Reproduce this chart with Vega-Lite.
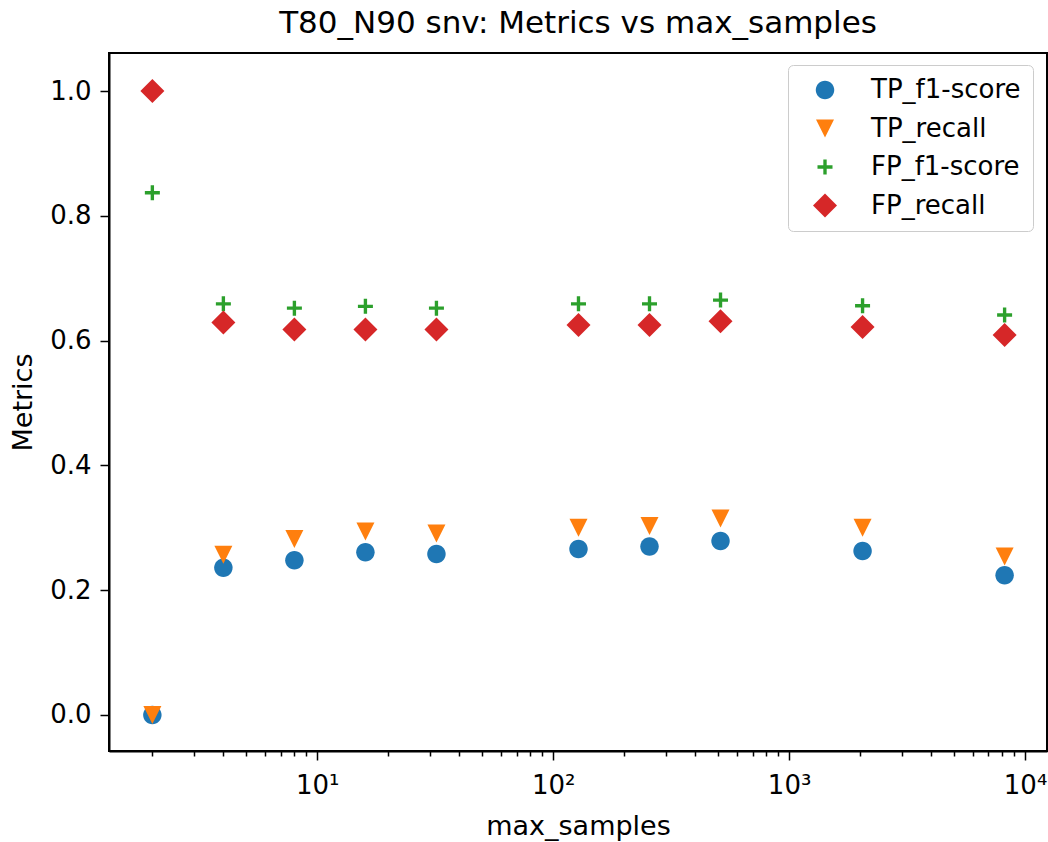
{
  "$schema": "https://vega.github.io/schema/vega-lite/v6.json",
  "autosize": "none",
  "width": 938,
  "height": 698,
  "padding": {"left": 109, "top": 53, "right": 1, "bottom": 91},
  "background": "white",
  "config": {
    "font": "DejaVu Sans",
    "view": {"stroke": "black", "strokeWidth": 2},
    "axis": {"grid": false, "domainColor": "black", "domainWidth": 2, "tickColor": "black", "labelColor": "black", "titleColor": "black", "labelFont": "DejaVu Sans", "titleFont": "DejaVu Sans", "titleFontWeight": "normal"},
    "legend": {"labelFont": "DejaVu Sans"}
  },
  "title": {"text": "T80_N90 snv: Metrics vs max_samples", "fontSize": 31, "fontWeight": "normal", "color": "black", "offset": 13, "font": "DejaVu Sans"},
  "data": {
    "values": [
      {"max_samples": 2, "metric": "TP_f1-score", "value": 0.0},
      {"max_samples": 4, "metric": "TP_f1-score", "value": 0.236},
      {"max_samples": 8, "metric": "TP_f1-score", "value": 0.248},
      {"max_samples": 16, "metric": "TP_f1-score", "value": 0.261},
      {"max_samples": 32, "metric": "TP_f1-score", "value": 0.258},
      {"max_samples": 128, "metric": "TP_f1-score", "value": 0.266},
      {"max_samples": 256, "metric": "TP_f1-score", "value": 0.270},
      {"max_samples": 512, "metric": "TP_f1-score", "value": 0.279},
      {"max_samples": 2048, "metric": "TP_f1-score", "value": 0.263},
      {"max_samples": 8192, "metric": "TP_f1-score", "value": 0.224},
      {"max_samples": 2, "metric": "TP_recall", "value": 0.0},
      {"max_samples": 4, "metric": "TP_recall", "value": 0.257},
      {"max_samples": 8, "metric": "TP_recall", "value": 0.282},
      {"max_samples": 16, "metric": "TP_recall", "value": 0.294},
      {"max_samples": 32, "metric": "TP_recall", "value": 0.291},
      {"max_samples": 128, "metric": "TP_recall", "value": 0.300},
      {"max_samples": 256, "metric": "TP_recall", "value": 0.303},
      {"max_samples": 512, "metric": "TP_recall", "value": 0.315},
      {"max_samples": 2048, "metric": "TP_recall", "value": 0.300},
      {"max_samples": 8192, "metric": "TP_recall", "value": 0.254},
      {"max_samples": 2, "metric": "FP_f1-score", "value": 0.837},
      {"max_samples": 4, "metric": "FP_f1-score", "value": 0.659},
      {"max_samples": 8, "metric": "FP_f1-score", "value": 0.652},
      {"max_samples": 16, "metric": "FP_f1-score", "value": 0.655},
      {"max_samples": 32, "metric": "FP_f1-score", "value": 0.652},
      {"max_samples": 128, "metric": "FP_f1-score", "value": 0.659},
      {"max_samples": 256, "metric": "FP_f1-score", "value": 0.659},
      {"max_samples": 512, "metric": "FP_f1-score", "value": 0.665},
      {"max_samples": 2048, "metric": "FP_f1-score", "value": 0.656},
      {"max_samples": 8192, "metric": "FP_f1-score", "value": 0.641},
      {"max_samples": 2, "metric": "FP_recall", "value": 1.0},
      {"max_samples": 4, "metric": "FP_recall", "value": 0.629},
      {"max_samples": 8, "metric": "FP_recall", "value": 0.618},
      {"max_samples": 16, "metric": "FP_recall", "value": 0.618},
      {"max_samples": 32, "metric": "FP_recall", "value": 0.618},
      {"max_samples": 128, "metric": "FP_recall", "value": 0.625},
      {"max_samples": 256, "metric": "FP_recall", "value": 0.625},
      {"max_samples": 512, "metric": "FP_recall", "value": 0.631},
      {"max_samples": 2048, "metric": "FP_recall", "value": 0.622},
      {"max_samples": 8192, "metric": "FP_recall", "value": 0.609}
    ]
  },
  "mark": {"type": "point", "filled": true, "size": 576, "opacity": 1, "strokeWidth": 0},
  "encoding": {
    "x": {
      "field": "max_samples", "type": "quantitative",
      "scale": {"type": "log", "domain": [1.31, 12390], "nice": false, "zero": false},
      "axis": {
        "title": "max_samples", "titleFontSize": 27, "titlePadding": 15,
        "values": [2,3,4,5,6,7,8,9,10,20,30,40,50,60,70,80,90,100,200,300,400,500,600,700,800,900,1000,2000,3000,4000,5000,6000,7000,8000,9000,10000],
        "labelExpr": "datum.value == 10 ? '10¹' : datum.value == 100 ? '10²' : datum.value == 1000 ? '10³' : datum.value == 10000 ? '10⁴' : ''",
        "labelFontSize": 26, "labelPadding": 12, "labelOverlap": false, "labelFlush": false,
        "tickSize": {"condition": {"test": "indexof([10,100,1000,10000], datum.value) >= 0", "value": 9}, "value": 5},
        "tickWidth": 1.5
      }
    },
    "y": {
      "field": "value", "type": "quantitative",
      "scale": {"domain": [-0.0577, 1.061], "nice": false, "zero": false},
      "axis": {
        "title": "Metrics", "titleFontSize": 27, "titlePadding": 12,
        "values": [0, 0.2, 0.4, 0.6, 0.8, 1.0], "format": ".1f",
        "labelFontSize": 26, "labelPadding": 9, "tickSize": 9, "tickWidth": 1.5
      }
    },
    "color": {
      "field": "metric", "type": "nominal",
      "scale": {"domain": ["TP_f1-score", "TP_recall", "FP_f1-score", "FP_recall"], "range": ["#1f77b4", "#ff7f0e", "#2ca02c", "#d62728"]},
      "legend": {
        "title": null, "orient": "none", "legendX": 679, "legendY": 12,
        "labelFontSize": 26, "labelColor": "black", "symbolSize": 576, "symbolStrokeWidth": 0,
        "strokeColor": "#cccccc", "fillColor": "white", "cornerRadius": 5, "padding": 12,
        "rowPadding": 12.5, "symbolOffset": 12, "labelOffset": 33
      }
    },
    "shape": {
      "field": "metric", "type": "nominal",
      "scale": {"domain": ["TP_f1-score", "TP_recall", "FP_f1-score", "FP_recall"], "range": [
        "M-0.77,0A0.77,0.77 0 1,0 0.77,0A0.77,0.77 0 1,0 -0.77,0Z",
        "M-0.75,-0.75L0.75,-0.75L0,0.75Z",
        "M-0.625,-0.14H-0.14V-0.625H0.14V-0.14H0.625V0.14H0.14V0.625H-0.14V0.14H-0.625Z",
        "M-1,0L0,-1L1,0L0,1Z"
      ]}
    },
    "order": {"field": "metric"}
  }
}
